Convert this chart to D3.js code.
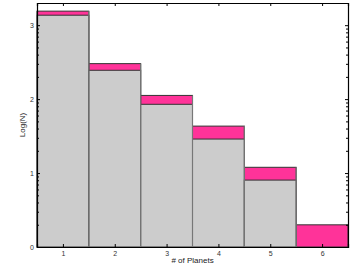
<!DOCTYPE html>
<html>
<head>
<meta charset="utf-8">
<script src="https://cdn.jsdelivr.net/npm/d3@7"></script>
<style>
  body { margin: 0; background: #fff; }
  text { font-family: "Liberation Sans", Arial, sans-serif; }
</style>
</head>
<body>
<div id="chart"></div>
<script>
// Datos: número de planetas y log(N) de las dos series
const planets = [1, 2, 3, 4, 5, 6];
const logAll = [3.19, 2.48, 2.05, 1.635, 1.078, 0.30];   // rosa
const logSub = [3.135, 2.39, 1.93, 1.46, 0.905, 0];      // gris
const yTicks = [0, 1, 2, 3];

const margin = { top: 3, right: 8, bottom: 24, left: 37 },
    width = 356 - margin.left - margin.right,
    height = 271 - margin.top - margin.bottom;

const svg = d3.select("#chart")
    .append("svg")
    .attr("width", 356)
    .attr("height", 271)
    .append("g")
    .attr("transform", `translate(${margin.left},${margin.top})`);

const x = d3.scaleLinear()
    .domain([0.5, 6.5])
    .range([0, width]);

const y = d3.scaleLinear()
    .domain([0, 3.3])
    .range([height, 0]);

const data = planets.map((p, i) => ({ p: p, all: logAll[i], sub: logSub[i] }));

// Barras rosas (total)
svg.selectAll(".bar.all")
    .data(data)
    .enter()
    .append("rect")
    .attr("class", "bar all")
    .attr("x", d => x(d.p - 0.5))
    .attr("y", d => y(d.all))
    .attr("width", d => x(d.p + 0.5) - x(d.p - 0.5))
    .attr("height", d => height - y(d.all))
    .attr("fill", "#ff3399")
    .attr("stroke", "#333")
    .attr("stroke-width", 1);

// Barras grises
svg.selectAll(".bar.sub")
    .data(data.filter(d => d.sub > 0))
    .enter()
    .append("rect")
    .attr("class", "bar sub")
    .attr("x", d => x(d.p - 0.5))
    .attr("y", d => y(d.sub))
    .attr("width", d => x(d.p + 0.5) - x(d.p - 0.5))
    .attr("height", d => height - y(d.sub))
    .attr("fill", "#cccccc")
    .attr("stroke", "#333")
    .attr("stroke-width", 1);

// Separadores grises entre bins
svg.selectAll(".sep")
    .data(data)
    .enter()
    .append("line")
    .attr("x1", d => x(d.p - 0.5))
    .attr("x2", d => x(d.p - 0.5))
    .attr("y1", d => y(d.p > 1 ? Math.max(d.all, data[d.p - 2].all) : d.all))
    .attr("y2", height)
    .attr("stroke", "#777")
    .attr("stroke-width", 1.2);

// Ticks menores tipo logarítmico
const minor = [];
yTicks.forEach(t => {
    for (let k = 2; k <= 9; k++) {
        const v = t + Math.log10(k);
        if (v < 3.3) minor.push(v);
    }
});

// Ejes
const axisStyle = g => {
    g.select(".domain").attr("stroke", "#000").attr("stroke-width", 1.2);
    g.selectAll("text").attr("fill", "#333").style("font-size", "7px");
    g.selectAll(".tick line").attr("stroke", "#000");
};

svg.append("g")
    .attr("transform", `translate(0,${height})`)
    .call(d3.axisBottom(x).tickValues(planets).tickSize(-3).tickPadding(4).tickFormat(d3.format("d")))
    .call(axisStyle);

svg.append("g")
    .call(d3.axisTop(x).tickValues(planets).tickSize(-3).tickFormat(""))
    .call(axisStyle);

svg.append("g")
    .call(d3.axisLeft(y).tickValues(yTicks).tickSize(-3).tickPadding(3).tickFormat(d3.format("d")))
    .call(axisStyle);

svg.append("g")
    .call(d3.axisLeft(y).tickValues(minor).tickSize(-2).tickFormat(""))
    .call(g => g.select(".domain").remove())
    .call(g => g.selectAll(".tick line").attr("stroke", "#000"));

svg.append("g")
    .attr("transform", `translate(${width},0)`)
    .call(d3.axisRight(y).tickValues(yTicks).tickSize(-3).tickFormat(""))
    .call(axisStyle);

svg.append("g")
    .attr("transform", `translate(${width},0)`)
    .call(d3.axisRight(y).tickValues(minor).tickSize(-2).tickFormat(""))
    .call(g => g.select(".domain").remove())
    .call(g => g.selectAll(".tick line").attr("stroke", "#000"));

// Etiquetas de los ejes
svg.append("text")
    .attr("x", width / 2)
    .attr("y", height + 16)
    .attr("text-anchor", "middle")
    .style("font-size", "8px")
    .attr("fill", "#222")
    .text("# of Planets");

svg.append("text")
    .attr("transform", `translate(-12,${height / 2}) rotate(-90)`)
    .attr("text-anchor", "middle")
    .style("font-size", "8px")
    .attr("fill", "#222")
    .text("Log(N)");
</script>
</body>
</html>
